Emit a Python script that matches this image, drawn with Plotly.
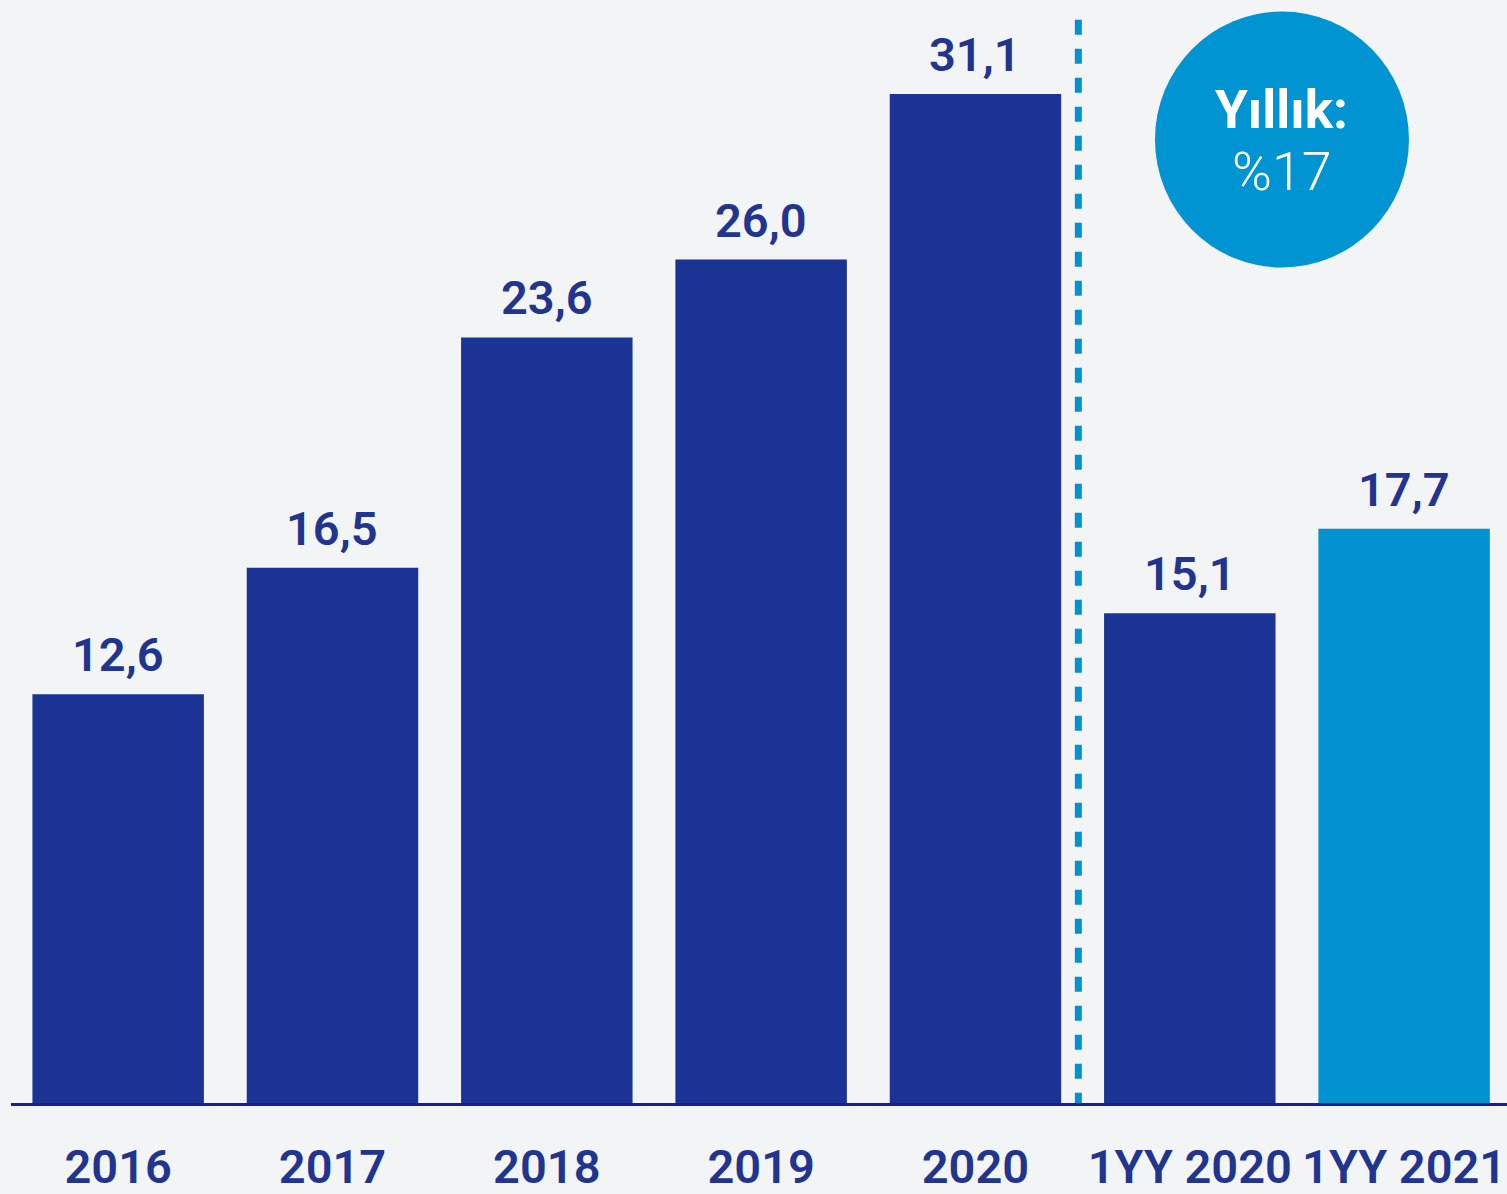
import plotly.graph_objects as go

categories = ["2016", "2017", "2018", "2019", "2020", "1YY 2020", "1YY 2021"]
values = [12.6, 16.5, 23.6, 26.0, 31.1, 15.1, 17.7]
value_labels = ["12,6", "16,5", "23,6", "26,0", "31,1", "15,1", "17,7"]
bar_colors = ["#1a3394"] * 6 + ["#0093d0"]

badge_title = "Yıllık:"
badge_value = "%17"

TEXT = "#21358e"
CYAN = "#0093d0"
BG = "#f3f4f6"
FONT = "Roboto"

fig = go.Figure(
    go.Bar(
        x=categories,
        y=values,
        marker={"color": bar_colors, "line": {"width": 0}},
        width=0.8,
        hoverinfo="skip",
    )
)

# category labels look numeric ("2016"), so place annotations by index
for i, (val, lab) in enumerate(zip(values, value_labels)):
    fig.add_annotation(
        x=i, y=val, text=lab, showarrow=False,
        yanchor="bottom", yshift=10,
        font={"family": FONT, "size": 47, "color": TEXT, "weight": 600},
    )

# dashed separator between annual and half-year bars
fig.add_shape(
    type="line", xref="x", yref="y",
    x0=4.48, x1=4.48, y0=-0.15, y1=33.8,
    line={"color": CYAN, "width": 7, "dash": "15px,14px"},
    layer="above",
)

# growth badge
cx, cy = 5.43, 29.7
fig.add_shape(
    type="circle", xref="x", yref="y",
    xsizemode="pixel", ysizemode="pixel",
    xanchor=cx, yanchor=cy,
    x0=-127, x1=127, y0=-128, y1=128,
    fillcolor="#0094d2", line={"width": 0},
)
fig.add_annotation(
    x=cx, y=cy, text=badge_title, showarrow=False, yshift=30,
    font={"family": FONT, "size": 53, "color": "white", "weight": 700},
)
fig.add_annotation(
    x=cx, y=cy, text=badge_value, showarrow=False, yshift=-32,
    font={"family": FONT, "size": 54, "color": "white", "weight": 300},
)

fig.update_layout(
    width=1507, height=1194,
    margin={"l": 11, "r": 0, "t": 0, "b": 88},
    paper_bgcolor=BG, plot_bgcolor=BG,
    showlegend=False,
    font={"family": FONT},
)
fig.update_xaxes(
    type="category", range=[-0.5, 6.48],
    showline=True, linecolor="#1b1f8a", linewidth=3,
    showgrid=False, ticks="", ticklabelstandoff=21,
    tickfont={"family": FONT, "size": 47, "color": TEXT, "weight": 600},
    fixedrange=True,
)
fig.update_yaxes(
    range=[0, 34], visible=False, showgrid=False, zeroline=False,
    fixedrange=True,
)

fig.write_html(
    "out.html",
    config={"displayModeBar": False},
    post_script="document.body.style.margin='0';",
)
